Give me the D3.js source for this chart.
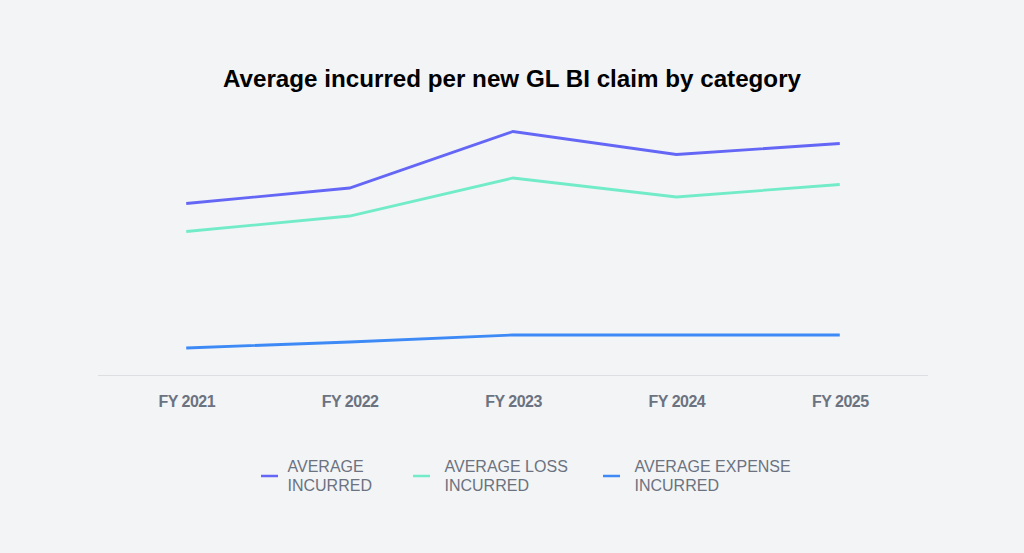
<!DOCTYPE html>
<html>
<head>
<meta charset="utf-8">
<script src="https://cdn.jsdelivr.net/npm/d3@7"></script>
<style>
  html, body { margin: 0; padding: 0; background: #f3f4f6; }
  svg { display: block; }
</style>
</head>
<body>
<svg id="chart" width="1024" height="553"></svg>
<script>
// Data (arbitrary units)
const categories = ["FY 2021", "FY 2022", "FY 2023", "FY 2024", "FY 2025"];
const avgIncurred = [171.5, 187, 243.5, 220.5, 231.5];
const avgLossIncurred = [143.5, 159, 197, 178, 190.5];
const avgExpenseIncurred = [27, 33, 40, 40, 40];
const seriesNames = ["AVERAGE INCURRED", "AVERAGE LOSS INCURRED", "AVERAGE EXPENSE INCURRED"];
const seriesLabelLines = [["AVERAGE", "INCURRED"], ["AVERAGE LOSS", "INCURRED"], ["AVERAGE EXPENSE", "INCURRED"]];
const seriesColors = ["#6466f6", "#72ecc8", "#3d8af7"];
const titleText = "Average incurred per new GL BI claim by category";

const series = [avgIncurred, avgLossIncurred, avgExpenseIncurred];

const svg = d3.select("#chart");
svg.append("rect").attr("width", 1024).attr("height", 553).attr("fill", "#f3f4f6");

const x = d3.scalePoint().domain(categories).range([98, 928]).padding(0.54);
const y = d3.scaleLinear().domain([0, 250]).range([375, 125]);

// title
svg.append("text")
  .attr("x", 512).attr("y", 87)
  .attr("text-anchor", "middle")
  .attr("font-family", "Liberation Sans, Arial, sans-serif")
  .attr("font-weight", "bold")
  .attr("font-size", 24.2)
  .attr("fill", "#000")
  .text(titleText);

// x axis
const xAxis = svg.append("g")
  .attr("transform", "translate(0,375)")
  .call(d3.axisBottom(x).tickSize(0).tickPadding(0));
xAxis.select(".domain").remove();
xAxis.append("line").attr("x1", 98).attr("x2", 928).attr("y1", 0.5).attr("y2", 0.5)
  .attr("stroke", "#dcdee2").attr("stroke-width", 1);
xAxis.selectAll(".tick text")
  .attr("y", 21)
  .attr("font-family", "Liberation Sans, Arial, sans-serif")
  .attr("font-weight", "bold")
  .attr("font-size", 16)
  .attr("letter-spacing", -0.5)
  .attr("fill", "#6b7280");

// lines
const line = d3.line().x((d, i) => x(categories[i])).y(d => y(d));
series.forEach((s, k) => {
  svg.append("path")
    .datum(s)
    .attr("d", line)
    .attr("fill", "none")
    .attr("stroke", seriesColors[k])
    .attr("stroke-width", 2.8)
    .attr("stroke-linejoin", "miter");
});

// legend
const legendX = [261, 413, 603];
const legend = svg.append("g");
seriesNames.forEach((name, k) => {
  const g = legend.append("g").attr("transform", `translate(${legendX[k]},0)`);
  g.append("line").attr("x1", 0).attr("x2", 17).attr("y1", 476).attr("y2", 476)
    .attr("stroke", seriesColors[k]).attr("stroke-width", 2.5);
  const t = g.append("text")
    .attr("font-family", "Liberation Sans, Arial, sans-serif")
    .attr("font-size", 16)
    .attr("fill", "#6b7280");
  seriesLabelLines[k].forEach((ln, j) => {
    t.append("tspan").attr("x", k === 0 ? 26.5 : 31.5).attr("y", 472 + j * 19).text(ln);
  });
});
</script>
</body>
</html>
